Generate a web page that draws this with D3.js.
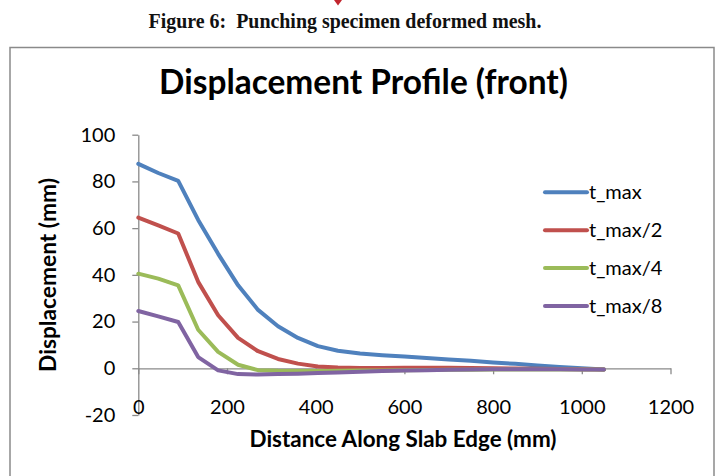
<!DOCTYPE html>
<html>
<head>
<meta charset="utf-8">
<script src="https://cdn.jsdelivr.net/npm/d3@7/dist/d3.min.js"></script>
<style>
  html, body { margin: 0; padding: 0; background: #fff; }
  svg { display: block; }
</style>
</head>
<body>
<svg id="chart" width="720" height="476"></svg>
<script>
// ---- Data ----
const distances = [0, 45, 90, 135, 180, 225, 270, 315, 360, 405, 450, 500, 550, 600, 650, 700, 750, 800, 850, 900, 950, 1000, 1050];
const tMax  = [87.5, 83.6, 80.2, 63.5, 49.0, 35.5, 25.0, 18.0, 13.0, 9.5, 7.5, 6.3, 5.6, 5.0, 4.4, 3.8, 3.2, 2.5, 1.9, 1.2, 0.6, 0.0, -0.5];
const tMax2 = [64.5, 61.2, 57.7, 37.0, 22.7, 13.0, 7.3, 4.0, 2.0, 0.8, 0.3, 0.1, 0.1, 0.2, 0.2, 0.2, 0.1, 0.0, -0.1, -0.2, -0.3, -0.4, -0.5];
const tMax4 = [40.5, 38.4, 35.5, 16.5, 7.0, 1.5, -0.8, -1.1, -1.2, -1.2, -1.1, -1.0, -0.9, -0.8, -0.7, -0.6, -0.6, -0.5, -0.5, -0.5, -0.5, -0.5, -0.5];
const tMax8 = [24.5, 22.2, 19.8, 4.8, -0.9, -2.5, -2.7, -2.5, -2.3, -2.0, -1.8, -1.5, -1.2, -1.0, -0.8, -0.6, -0.5, -0.4, -0.4, -0.4, -0.4, -0.5, -0.5];
const seriesNames = ["t_max", "t_max/2", "t_max/4", "t_max/8"];
const seriesValues = [tMax, tMax2, tMax4, tMax8];
const xTicks = [0, 200, 400, 600, 800, 1000, 1200];
const yTicks = [-20, 0, 20, 40, 60, 80, 100];
const chartTitle = "Displacement Profile (front)";
const xTitle = "Distance Along Slab Edge (mm)";
const yTitle = "Displacement (mm)";
const caption = "Figure 6:\u00a0 Punching specimen deformed mesh.";

// ---- Style ----
const colors = ["#4F81BD", "#C0504D", "#9BBB59", "#8064A2"];
const axisColor = "#8a8a8a";
const font = "Lato, 'Open Sans', sans-serif";

const svg = d3.select("#chart");
svg.append("rect").attr("width", 720).attr("height", 476).attr("fill", "#fff");

// helper: fit text to a target width by adjusting font-size
function fit(sel, target) {
  const w = sel.node().getComputedTextLength();
  const fs = parseFloat(sel.attr("font-size"));
  sel.attr("font-size", (fs * target / w).toFixed(2));
}

// top decoration (cut-off red figure above caption)
svg.append("path").attr("d", "M334,0 L342,0 L338,5.5 Z").attr("fill", "#c2262e");

// caption
const cap = svg.append("text")
  .attr("x", 345).attr("y", 27.5)
  .attr("text-anchor", "middle")
  .attr("font-family", "'Liberation Serif', 'Times New Roman', serif")
  .attr("font-weight", "bold").attr("font-size", 20)
  .attr("fill", "#111")
  .text(caption);
fit(cap, 393);

// chart frame
svg.append("rect")
  .attr("x", 10).attr("y", 47.5).attr("width", 704).attr("height", 460)
  .attr("fill", "none").attr("stroke", axisColor).attr("stroke-width", 1.5);

// scales
const x = d3.scaleLinear().domain([0, 1200]).range([138.3, 670.5]);
const y = d3.scaleLinear().domain([-20, 100]).range([415, 134.7]);

// y axis
const yAxis = svg.append("g")
  .attr("transform", `translate(${x(0)},0)`)
  .call(d3.axisLeft(y).tickValues(yTicks).tickSize(6).tickSizeOuter(0).tickPadding(17).tickFormat(d => String(d)));
yAxis.select(".domain").attr("stroke", axisColor).attr("stroke-width", 1.3);
yAxis.selectAll(".tick line").attr("stroke", axisColor).attr("stroke-width", 1.3);
yAxis.selectAll(".tick text")
  .attr("font-family", font).attr("font-size", 20).attr("fill", "#000");

// x axis along y = 0
const xAxis = svg.append("g")
  .attr("transform", `translate(0,${y(0)})`)
  .call(d3.axisBottom(x).tickValues(xTicks).tickSize(6).tickSizeOuter(0).tickFormat(d => String(d)));
xAxis.select(".domain").attr("stroke", axisColor).attr("stroke-width", 1.3);
xAxis.selectAll(".tick line").attr("stroke", axisColor).attr("stroke-width", 1.3);
xAxis.selectAll(".tick text")
  .attr("font-family", font).attr("font-size", 20).attr("fill", "#000")
  .attr("dy", "0").attr("y", 414 - y(0));

// lines
const line = d3.line().x((d, i) => x(distances[i])).y(d => y(d));
seriesValues.forEach((vals, k) => {
  svg.append("path")
    .datum(vals)
    .attr("d", line)
    .attr("fill", "none")
    .attr("stroke", colors[k])
    .attr("stroke-width", 4)
    .attr("stroke-linejoin", "round")
    .attr("stroke-linecap", "round");
});

// title
const t = svg.append("text")
  .attr("x", 363.5).attr("y", 93.5)
  .attr("text-anchor", "middle")
  .attr("font-family", font).attr("font-weight", "bold").attr("font-size", 28)
  .attr("fill", "#000")
  .text(chartTitle);
fit(t, 409);

// axis titles
const xt = svg.append("text")
  .attr("x", 403).attr("y", 446.5)
  .attr("text-anchor", "middle")
  .attr("font-family", font).attr("font-weight", "bold").attr("font-size", 19)
  .attr("fill", "#000")
  .text(xTitle);
fit(xt, 307);

const yt = svg.append("text")
  .attr("transform", "translate(56,275) rotate(-90)")
  .attr("text-anchor", "middle")
  .attr("font-family", font).attr("font-weight", "bold").attr("font-size", 19)
  .attr("fill", "#000")
  .text(yTitle);
fit(yt, 194);

// legend
const legend = svg.append("g");
seriesNames.forEach((name, k) => {
  const ly = 192.3 + k * 37.9;
  legend.append("line")
    .attr("x1", 545).attr("x2", 587).attr("y1", ly).attr("y2", ly)
    .attr("stroke", colors[k]).attr("stroke-width", 4).attr("stroke-linecap", "round");
  legend.append("text")
    .attr("x", 589).attr("y", ly)
    .attr("dy", "0.35em")
    .attr("font-family", font).attr("font-size", 20).attr("fill", "#000")
    .text(name);
});
</script>
</body>
</html>
